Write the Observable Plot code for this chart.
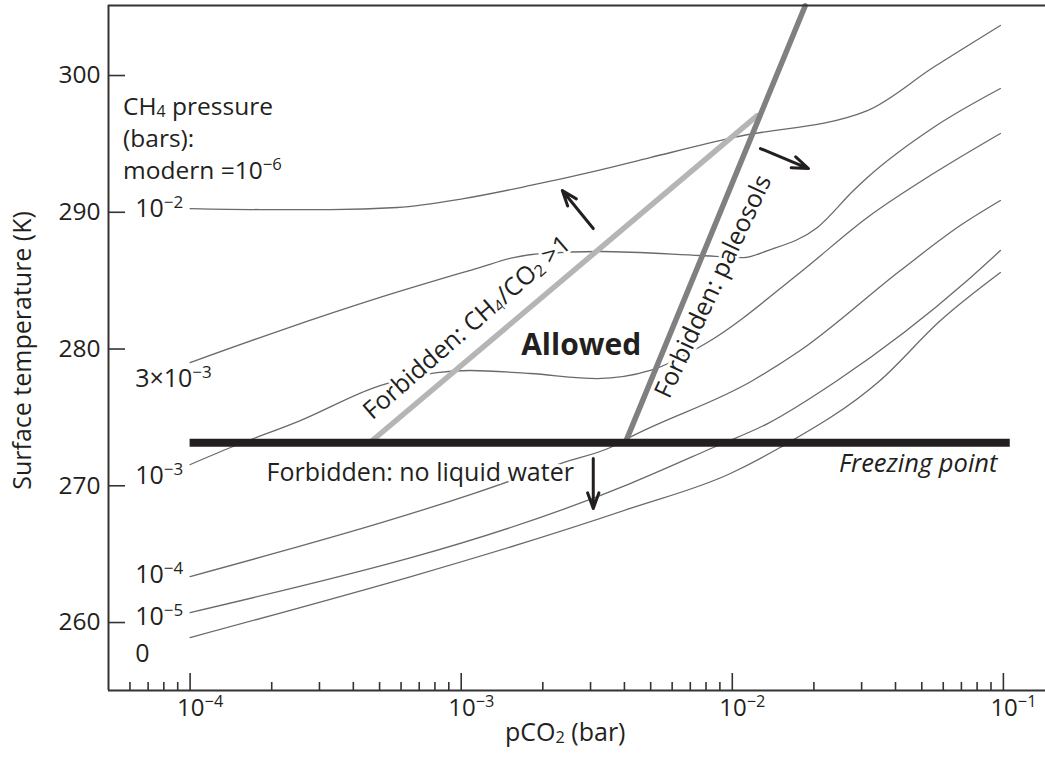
<!DOCTYPE html>
<html><head><meta charset="utf-8">
<script src="https://cdn.jsdelivr.net/npm/d3@7"></script>
<script src="https://cdn.jsdelivr.net/npm/@observablehq/plot@0.6"></script>
<style>body{margin:0;background:#fff} svg{display:block}</style>
</head><body><div id="chart"></div>
<script>
// ---- axes ----
const xDomain = [5e-5, 0.143];
const yDomain = [255.03, 305.12];
const xMajorTicks = [1e-4, 1e-3, 1e-2, 1e-1];
const xTickLabels = ["10^{−4}", "10^{−3}", "10^{−2}", "10^{−1}"];
const xMinorTicks = [6e-5, 7e-5, 8e-5, 9e-5,
  2e-4, 3e-4, 4e-4, 5e-4, 6e-4, 7e-4, 8e-4, 9e-4,
  2e-3, 3e-3, 4e-3, 5e-3, 6e-3, 7e-3, 8e-3, 9e-3,
  2e-2, 3e-2, 4e-2, 5e-2, 6e-2, 7e-2, 8e-2, 9e-2];
const yTicks = [260, 270, 280, 290, 300];

// ---- temperature curves [pCO2 (bar), T (K)] for each CH4 pressure ----
const ch4_1e2 = [[1e-4,290.27],[1.81e-4,290.2],[3.29e-4,290.2],[5.81e-4,290.35],[1.02e-3,291.0],[1.8e-3,291.96],[3.18e-3,293.05],[4.98e-3,294.0],[1.01e-2,295.47],[3.15e-2,297.44],[5.52e-2,300.6],[0.0975,303.66]];
const ch4_3e3 = [[1e-4,279.01],[2.15e-4,281.35],[5.02e-4,283.77],[1.17e-3,285.96],[1.56e-3,286.69],[1.96e-3,286.98],[3.26e-3,287.13],[7.62e-3,286.84],[1.1e-2,286.69],[1.35e-2,287.2],[2.06e-2,288.89],[2.8e-2,291.59],[3.15e-2,292.54],[5.52e-2,296.2],[0.0975,299.05]];
const ch4_1e3 = [[1e-4,271.55],[1.41e-4,272.8],[2.55e-4,274.77],[5.02e-4,277.33],[8.15e-4,278.28],[1.08e-3,278.43],[1.8e-3,278.21],[3.18e-3,277.84],[4.98e-3,278.43],[8.09e-3,280.48],[1.78e-2,285.6],[3.15e-2,289.62],[5.52e-2,292.83],[0.0975,295.76]];
const ch4_1e4 = [[1e-4,263.36],[1.11e-3,269.43],[2.38e-3,271.7],[3.55e-3,272.8],[4.31e-3,273.67],[1.19e-2,277.7],[1.78e-2,279.89],[4.17e-2,285.74],[6.93e-2,289.03],[0.0975,290.86]];
const ch4_1e5 = [[1e-4,260.73],[4.2e-3,270.16],[8.51e-3,272.8],[1.35e-2,274.55],[2.44e-2,277.7],[7.36e-2,285.01],[0.0975,287.2]];
const ch4_0 = [[1e-4,258.9],[4.2e-3,268.34],[9.84e-3,270.9],[1.5e-2,272.8],[3.51e-2,277.7],[5.86e-2,282.08],[0.0975,285.59]];
const curveNames = ["1e-2","3e-3","1e-3","1e-4","1e-5","0"];
const curveData = [ch4_1e2, ch4_3e3, ch4_1e3, ch4_1e4, ch4_1e5, ch4_0];

// curve labels at left
const curveLabels = ["10^{−2}", "3×10^{−3}", "10^{−3}", "10^{−4}", "10^{−5}", "0"];
const curveLabelT = [290.27, 277.84, 270.75, 263.44, 260.37, 257.73];
const curveLabelX = 6.27e-5;

// ---- constraint lines ----
const ch4co2Line = [[4.70e-4, 273.31], [1.236e-2, 297.07]];
const paleosolLine = [[4.06e-3, 273.3], [1.858e-2, 305.1]];
const freezing = [{T: 273.15, x1: 1e-4, x2: 0.106}];

// ---- arrows ----
const arrows = [
  {x1: 3.07e-3, y1: 271.99, x2: 3.07e-3, y2: 268.34},
  {x1: 3.07e-3, y1: 288.81, x2: 2.36e-3, y2: 291.59},
  {x1: 1.27e-2, y1: 294.66, x2: 1.91e-2, y2: 293.20}
];

// ---- annotations ----
const legendBlock = [{text: "CH_{4} pressure\n(bars):\nmodern =10^{−6}", x: 5.66e-5, T: 295.54}];
const notes = [
  {text: "Forbidden: CH_{4}/CO_{2} >1", x: 1.05e-3, T: 281.57, rotate: -41},
  {text: "Forbidden: paleosols", x: 8.51e-3, T: 284.57, rotate: -65},
  {text: "Forbidden: no liquid water", x: 7.06e-4, T: 270.90, rotate: 0}
];
const allowed = [{text: "Allowed", x: 2.77e-3, T: 280.26}];
const freezeLabel = [{text: "Freezing point", x: 0.0951, T: 271.63}];
const xTitle = [{text: "pCO_{2} (bar)", x: 2.42e-3}];
const yTitle = [{text: "Surface temperature (K)", T: 279.9}];

const rows = curveData.flatMap((pts, i) => pts.map(([x, T]) => ({series: curveNames[i], x, T})));
const toRows = (pts) => pts.map(([x, T]) => ({x, T}));

const ink = "#231f20";
const font = "'Open Sans', 'Noto Sans', sans-serif";

const chart = Plot.plot({
  width: 1045, height: 764,
  marginLeft: 108, marginRight: 0, marginTop: 5, marginBottom: 74,
  style: {fontFamily: font, background: "#fff", color: ink},
  x: {type: "log", domain: xDomain, axis: null},
  y: {domain: yDomain, axis: null},
  marks: [
    Plot.line(rows, {x: "x", y: "T", z: "series", stroke: "#6a6a6a", strokeWidth: 1.3, curve: "monotone-x"}),
    Plot.text(notes, {x: "x", y: "T", text: "text", rotate: "rotate", fontSize: 25, fill: ink, stroke: "white", strokeWidth: 6}),
    Plot.line(toRows(ch4co2Line), {x: "x", y: "T", stroke: "#b5b5b5", strokeWidth: 5.5}),
    Plot.line(toRows(paleosolLine), {x: "x", y: "T", stroke: "#808080", strokeWidth: 5.5}),
    Plot.ruleY(freezing, {y: "T", x1: "x1", x2: "x2", stroke: ink, strokeWidth: 8}),
    Plot.arrow(arrows, {x1: "x1", y1: "y1", x2: "x2", y2: "y2", stroke: ink, strokeWidth: 3, headLength: 12, headAngle: 40}),
    Plot.text(allowed, {x: "x", y: "T", text: "text", fontSize: 30, fontWeight: "bold", fill: ink}),
    Plot.text(freezeLabel, {x: "x", y: "T", text: "text", textAnchor: "end", fontSize: 25.5, fontStyle: "italic", fill: ink}),
    Plot.text(legendBlock, {x: "x", y: "T", text: "text", textAnchor: "start", lineHeight: 1.3, fontSize: 24.5, fill: ink}),
    Plot.text(curveLabels, {x: () => curveLabelX, y: (d, i) => curveLabelT[i], text: d => d, textAnchor: "start", fontSize: 25, fill: ink}),
    // frame (top, bottom, left)
    Plot.ruleY([yDomain[1], yDomain[0]], {stroke: "#333", strokeWidth: 2}),
    Plot.ruleX([xDomain[0]], {stroke: "#333", strokeWidth: 2}),
    // inward ticks
    Plot.ruleX(xMajorTicks, {stroke: "#333", strokeWidth: 1.6, insetTop: 668}),
    Plot.ruleX(xMinorTicks, {stroke: "#333", strokeWidth: 1.6, insetTop: 677}),
    Plot.ruleY(yTicks, {stroke: "#333", strokeWidth: 1.6, insetRight: 920}),
    // tick labels
    Plot.text(xMajorTicks, {x: d => d, frameAnchor: "bottom", dy: 25, dx: -13, textAnchor: "start", text: (d, i) => xTickLabels[i], fontSize: 24, fill: ink}),
    Plot.text(yTicks, {y: d => d, frameAnchor: "left", dx: -8, textAnchor: "end", text: d => String(d), fontSize: 24.5, fill: ink}),
    // axis titles
    Plot.text(xTitle, {x: "x", frameAnchor: "bottom", dy: 50, text: "text", textAnchor: "middle", fontSize: 25, fill: ink}),
    Plot.text(yTitle, {y: "T", frameAnchor: "left", dx: -86, rotate: -90, textAnchor: "middle", text: "text", fontSize: 25, fill: ink})
  ]
});
document.getElementById("chart").appendChild(chart);

// turn ^{..} and _{..} markers into real superscript / subscript tspans
const NS = "http://www.w3.org/2000/svg";
function richify(el) {
  const s = el.textContent;
  if (!/[\^_]\{/.test(s)) return;
  const fs = parseFloat(getComputedStyle(el).fontSize);
  while (el.firstChild) el.removeChild(el.firstChild);
  let shift = 0;
  const add = (str, kind) => {
    if (!str) return;
    const ts = document.createElementNS(NS, "tspan");
    const target = kind === "^" ? -0.36 * fs : kind === "_" ? 0.1 * fs : 0;
    if (target - shift !== 0) ts.setAttribute("dy", (target - shift).toFixed(2));
    shift = target;
    if (kind) ts.setAttribute("font-size", ((kind === "_" ? 0.65 : 0.68) * fs).toFixed(2));
    ts.textContent = str;
    el.appendChild(ts);
  };
  const re = /(\^|_)\{([^}]*)\}/g;
  let last = 0, m;
  while ((m = re.exec(s))) {
    add(s.slice(last, m.index), null);
    add(m[2], m[1]);
    last = re.lastIndex;
  }
  add(s.slice(last), null);
}
chart.querySelectorAll("text").forEach(t => {
  const lines = Array.from(t.children).filter(c => c.tagName === "tspan");
  if (lines.length) lines.forEach(richify);
  else richify(t);
});
</script>
</body></html>
